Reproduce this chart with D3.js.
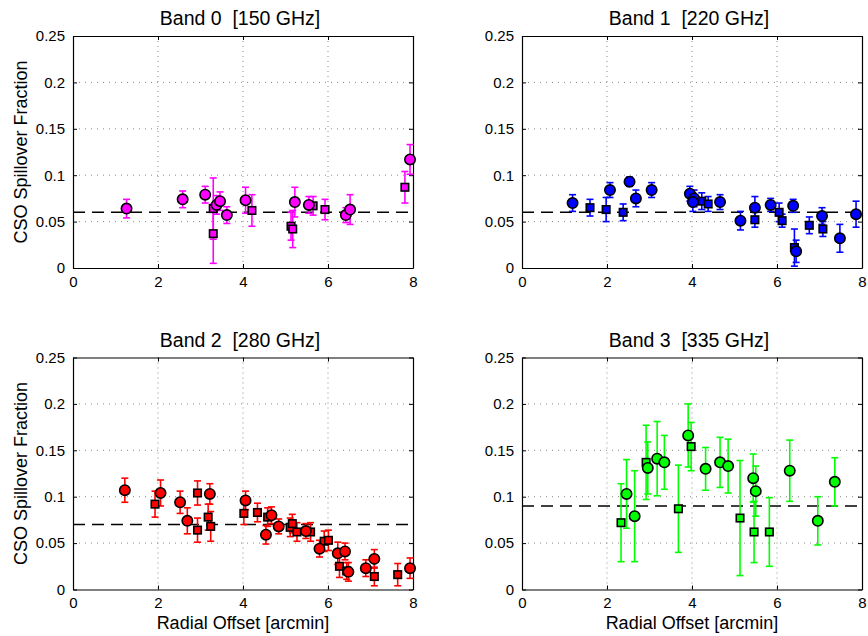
<!DOCTYPE html>
<html>
<head>
<meta charset="utf-8">
<script src="https://cdn.jsdelivr.net/npm/d3@7"></script>
<style>
  body { margin: 0; background: #fff; }
  text { font-family: "Liberation Sans", Arial, Helvetica, sans-serif; fill: #000; }
</style>
</head>
<body>
<svg id="chart" width="868" height="636"></svg>
<script>
// Panel titles, axis ticks and reference spillover level per band
const panelTitles = ["Band 0  [150 GHz]", "Band 1  [220 GHz]", "Band 2  [280 GHz]", "Band 3  [335 GHz]"];
const xTicks = [0, 2, 4, 6, 8];
const yTicks = [0, 0.05, 0.1, 0.15, 0.2, 0.25];
const yTickLabels = ["0", "0.05", "0.1", "0.15", "0.2", "0.25"];
const refLevels = [0.06, 0.06, 0.07, 0.09];
const bandColors = ["#ff00ff", "#0000ff", "#ff0000", "#00ff00"];

// Measurements: [radial offset (arcmin), spillover fraction, 1-sigma error]
const band0Circles = [
  [1.26, 0.064, 0.010], [2.58, 0.074, 0.009], [3.11, 0.079, 0.009], [3.38, 0.068, 0.010],
  [3.46, 0.072, 0.010], [3.62, 0.057, 0.009], [4.06, 0.073, 0.014], [5.22, 0.071, 0.016],
  [5.55, 0.068, 0.009], [6.42, 0.057, 0.008], [6.52, 0.063, 0.016], [7.93, 0.117, 0.016]
];
const band0Squares = [
  [3.30, 0.064, 0.033], [3.30, 0.037, 0.032], [4.21, 0.062, 0.017], [5.13, 0.045, 0.015],
  [5.17, 0.042, 0.020], [5.65, 0.067, 0.010], [5.93, 0.063, 0.011], [7.81, 0.087, 0.017]
];
const band1Circles = [
  [1.19, 0.070, 0.009], [2.07, 0.084, 0.008], [2.53, 0.093, 0.005], [2.68, 0.075, 0.009],
  [3.05, 0.084, 0.008], [3.95, 0.080, 0.008], [4.05, 0.075, 0.009], [4.02, 0.071, 0.010],
  [4.66, 0.071, 0.008], [5.14, 0.051, 0.010], [5.48, 0.065, 0.012], [5.85, 0.068, 0.007],
  [6.38, 0.067, 0.007], [6.45, 0.018, 0.012], [7.06, 0.056, 0.009], [7.48, 0.032, 0.015],
  [7.86, 0.058, 0.014]
];
const band1Squares = [
  [1.60, 0.065, 0.009], [1.98, 0.063, 0.013], [2.38, 0.060, 0.009], [4.23, 0.072, 0.009],
  [4.38, 0.069, 0.008], [5.48, 0.052, 0.008], [6.05, 0.060, 0.010], [6.12, 0.051, 0.007],
  [6.41, 0.022, 0.020], [6.76, 0.046, 0.009], [7.08, 0.042, 0.008]
];
const band2Circles = [
  [1.22, 0.107, 0.013], [2.06, 0.104, 0.014], [2.52, 0.094, 0.012], [2.69, 0.074, 0.014],
  [3.22, 0.103, 0.011], [4.06, 0.096, 0.010], [4.54, 0.059, 0.010], [4.67, 0.080, 0.009],
  [4.84, 0.068, 0.008], [5.48, 0.063, 0.008], [5.80, 0.044, 0.009], [6.23, 0.039, 0.012],
  [6.40, 0.041, 0.009], [6.48, 0.019, 0.010], [6.89, 0.023, 0.009], [7.09, 0.033, 0.010],
  [7.93, 0.023, 0.011]
];
const band2Squares = [
  [1.93, 0.092, 0.014], [2.93, 0.104, 0.013], [2.93, 0.064, 0.013], [3.18, 0.078, 0.014],
  [3.24, 0.068, 0.016], [4.02, 0.082, 0.012], [4.34, 0.083, 0.010], [4.58, 0.078, 0.010],
  [5.11, 0.067, 0.010], [5.16, 0.071, 0.010], [5.27, 0.062, 0.010], [5.59, 0.062, 0.010],
  [5.91, 0.052, 0.011], [6.01, 0.053, 0.011], [6.27, 0.025, 0.012], [6.44, 0.020, 0.009],
  [7.09, 0.014, 0.010], [7.64, 0.016, 0.012]
];
const band3Circles = [
  [2.46, 0.103, 0.037], [2.65, 0.079, 0.049], [2.96, 0.131, 0.028], [3.18, 0.141, 0.040],
  [3.35, 0.137, 0.029], [3.91, 0.166, 0.034], [4.32, 0.130, 0.023], [4.66, 0.137, 0.027],
  [4.85, 0.133, 0.029], [5.44, 0.120, 0.026], [5.50, 0.106, 0.027], [6.30, 0.128, 0.033],
  [6.96, 0.074, 0.026], [7.36, 0.116, 0.026]
];
const band3Squares = [
  [2.33, 0.072, 0.042], [2.92, 0.137, 0.040], [3.68, 0.087, 0.047], [3.98, 0.154, 0.026],
  [5.13, 0.077, 0.062], [5.46, 0.062, 0.033], [5.82, 0.062, 0.037]
];

const circleSets = [band0Circles, band1Circles, band2Circles, band3Circles];
const squareSets = [band0Squares, band1Squares, band2Squares, band3Squares];

const svg = d3.select("#chart");
const panelW = 340, panelH = 232;
const origins = [[73, 36], [522, 36], [73, 357.5], [522, 357.5]];

origins.forEach(([ox, oy], i) => {
  const g = svg.append("g").attr("transform", `translate(${ox},${oy})`);
  const x = d3.scaleLinear().domain([0, 8]).range([0, panelW]);
  const y = d3.scaleLinear().domain([0, 0.25]).range([panelH, 0]);
  const color = bandColors[i];

  // dotted grid
  g.append("g").selectAll("line.gx").data(xTicks.slice(1, -1)).join("line")
    .attr("x1", d => x(d)).attr("x2", d => x(d)).attr("y1", 0).attr("y2", panelH)
    .attr("stroke", "#8a8a8a").attr("stroke-width", 1).attr("stroke-dasharray", "1,4");
  g.append("g").selectAll("line.gy").data(yTicks.slice(1, -1)).join("line")
    .attr("x1", 0).attr("x2", panelW).attr("y1", d => y(d)).attr("y2", d => y(d))
    .attr("stroke", "#8a8a8a").attr("stroke-width", 1).attr("stroke-dasharray", "1,5");

  // axes with inward ticks
  const xAxis = g.append("g").attr("transform", `translate(0,${panelH})`)
    .call(d3.axisBottom(x).tickValues(xTicks).tickFormat(d3.format("d")).tickSizeInner(-4).tickSizeOuter(0).tickPadding(8));
  const yAxis = g.append("g")
    .call(d3.axisLeft(y).tickValues(yTicks).tickFormat((d, k) => yTickLabels[k]).tickSizeInner(-4).tickSizeOuter(0).tickPadding(8));
  g.append("g").call(d3.axisTop(x).tickValues(xTicks).tickFormat("").tickSizeInner(-4).tickSizeOuter(0));
  g.append("g").attr("transform", `translate(${panelW},0)`)
    .call(d3.axisRight(y).tickValues(yTicks).tickFormat("").tickSizeInner(-4).tickSizeOuter(0));
  g.selectAll(".domain").attr("stroke", "#000").attr("stroke-width", 1.2);
  g.selectAll(".tick line").attr("stroke", "#000");
  [xAxis, yAxis].forEach(a => a.selectAll("text").attr("font-size", 15)
    .style("font-family", '"Liberation Sans", Arial, sans-serif'));
  xAxis.selectAll("text").attr("dy", "0.71em");

  // reference level
  g.append("line").attr("x1", 0).attr("x2", panelW)
    .attr("y1", y(refLevels[i])).attr("y2", y(refLevels[i]))
    .attr("stroke", "#000").attr("stroke-width", 1.6).attr("stroke-dasharray", "12,7");

  const all = circleSets[i].concat(squareSets[i]);
  const cap = 3.5;
  const eb = g.append("g").attr("stroke", color).attr("stroke-width", 1.6);
  eb.selectAll("line.v").data(all).join("line")
    .attr("x1", d => x(d[0])).attr("x2", d => x(d[0]))
    .attr("y1", d => y(d[1] - d[2])).attr("y2", d => y(d[1] + d[2]));
  eb.selectAll("line.t").data(all).join("line")
    .attr("x1", d => x(d[0]) - cap).attr("x2", d => x(d[0]) + cap)
    .attr("y1", d => y(d[1] + d[2])).attr("y2", d => y(d[1] + d[2]));
  eb.selectAll("line.b").data(all).join("line")
    .attr("x1", d => x(d[0]) - cap).attr("x2", d => x(d[0]) + cap)
    .attr("y1", d => y(d[1] - d[2])).attr("y2", d => y(d[1] - d[2]));

  const sq = 7.5;
  g.append("g").selectAll("rect").data(squareSets[i]).join("rect")
    .attr("x", d => x(d[0]) - sq / 2).attr("y", d => y(d[1]) - sq / 2)
    .attr("width", sq).attr("height", sq)
    .attr("fill", color).attr("stroke", "#000").attr("stroke-width", 1.6);
  g.append("g").selectAll("circle").data(circleSets[i]).join("circle")
    .attr("cx", d => x(d[0])).attr("cy", d => y(d[1])).attr("r", 5.2)
    .attr("fill", color).attr("stroke", "#000").attr("stroke-width", 1.6);

  // title
  g.append("text").attr("x", panelW / 2 - 3).attr("y", -11).attr("text-anchor", "middle")
    .attr("font-size", 19.5).style("white-space", "pre").text(panelTitles[i]);

  // axis labels on the left column / bottom row
  if (i % 2 === 0) {
    g.append("text").attr("transform", `translate(${21 - ox},${panelH / 2}) rotate(-90)`)
      .attr("text-anchor", "middle").attr("dy", "0.35em").attr("font-size", 18)
      .text("CSO Spillover Fraction");
  }
  if (i >= 2) {
    g.append("text").attr("x", panelW / 2).attr("y", panelH + 39).attr("text-anchor", "middle")
      .attr("font-size", 18).text("Radial Offset [arcmin]");
  }
});
</script>
</body>
</html>
